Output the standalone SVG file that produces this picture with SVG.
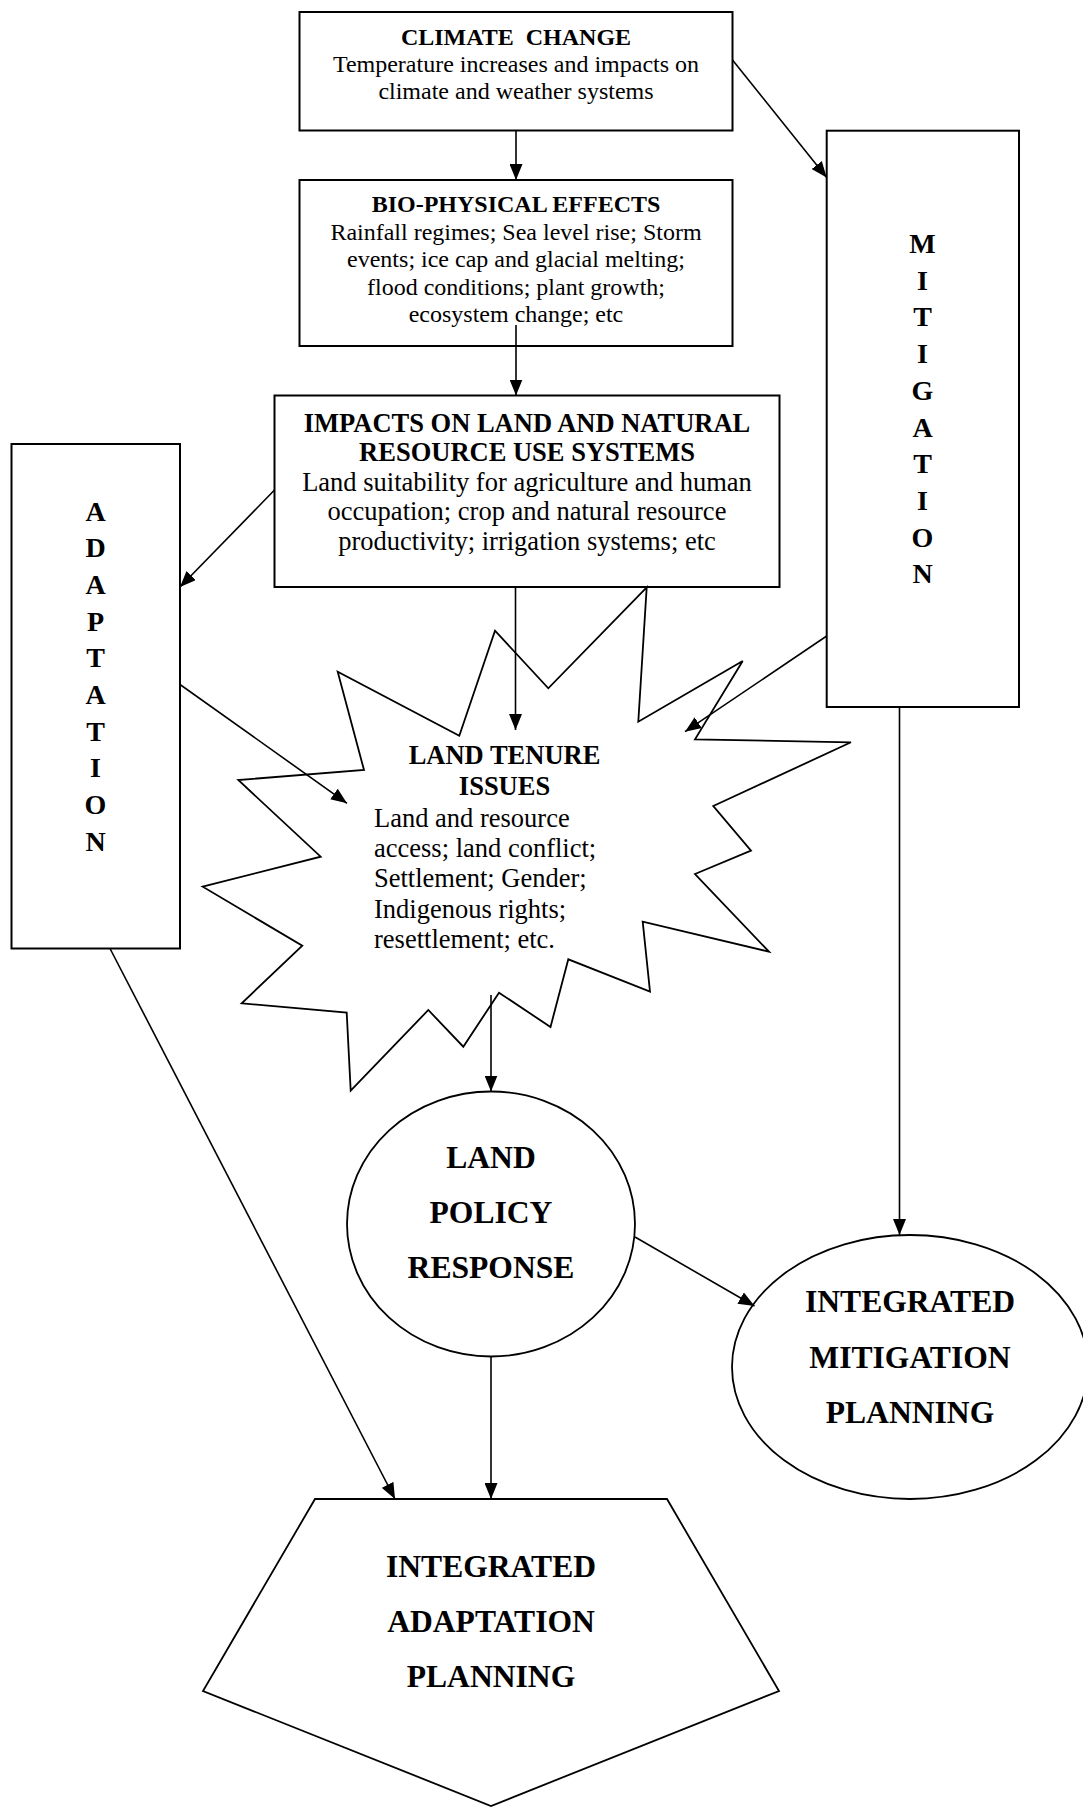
<svg xmlns="http://www.w3.org/2000/svg" width="1083" height="1807" viewBox="0 0 1083 1807">
<defs>
<marker id="ah" markerUnits="userSpaceOnUse" markerWidth="16" markerHeight="13" refX="16" refY="6.5" orient="auto">
<path d="M0,0 L16,6.5 L0,13 z" fill="#000"/>
</marker>
<style>
.box{fill:#fff;stroke:#000;stroke-width:2}
.shape{fill:#fff;stroke:#000;stroke-width:1.8}
.conn{fill:none;stroke:#000;stroke-width:1.6;marker-end:url(#ah)}
.t{font-family:"Liberation Serif","Times New Roman",serif;fill:#000}
.h24{font-size:24px;font-weight:bold;text-anchor:middle}
.b24{font-size:24px;text-anchor:middle}
.h26{font-size:26.5px;font-weight:bold;text-anchor:middle}
.b26{font-size:26.5px;text-anchor:middle}
.l26{font-size:26.5px}
.v{font-size:28px;font-weight:bold;text-anchor:middle}
.big{font-size:31.6px;font-weight:bold;text-anchor:middle}
</style>
</defs>
<rect width="1083" height="1807" fill="#fff"/>

<g id="climate-change">
<rect class="box" x="299.5" y="12" width="433" height="118.5"/>
<text class="t h24" x="516" y="45" xml:space="preserve">CLIMATE  CHANGE</text>
<text class="t b24" x="516" y="72.3">Temperature increases and impacts on</text>
<text class="t b24" x="516" y="99.3">climate and weather systems</text>
</g>

<g id="bio-physical-effects">
<rect class="box" x="299.5" y="180" width="433" height="166"/>
<text class="t h24" x="516" y="212.3">BIO-PHYSICAL EFFECTS</text>
<text class="t b24" x="516" y="239.5">Rainfall regimes; Sea level rise; Storm</text>
<text class="t b24" x="516" y="267">events; ice cap and glacial melting;</text>
<text class="t b24" x="516" y="294.5">flood conditions; plant growth;</text>
<text class="t b24" x="516" y="322">ecosystem change; etc</text>
</g>

<g id="impacts">
<rect class="box" x="274.5" y="395.5" width="505" height="191.5"/>
<text class="t h26" x="527" y="431.5">IMPACTS ON LAND AND NATURAL</text>
<text class="t h26" x="527" y="461">RESOURCE USE SYSTEMS</text>
<text class="t b26" x="527" y="490.7">Land suitability for agriculture and human</text>
<text class="t b26" x="527" y="520.3">occupation; crop and natural resource</text>
<text class="t b26" x="527" y="550">productivity; irrigation systems; etc</text>
</g>

<g id="adaptation">
<rect class="box" x="11.5" y="444" width="168.5" height="504.5"/>
<text class="t v" x="95.5" y="520.5">A</text>
<text class="t v" x="95.5" y="557.2">D</text>
<text class="t v" x="95.5" y="593.9">A</text>
<text class="t v" x="95.5" y="630.6">P</text>
<text class="t v" x="95.5" y="667.3">T</text>
<text class="t v" x="95.5" y="704">A</text>
<text class="t v" x="95.5" y="740.7">T</text>
<text class="t v" x="95.5" y="777.4">I</text>
<text class="t v" x="95.5" y="814.1">O</text>
<text class="t v" x="95.5" y="850.8">N</text>
</g>

<g id="mitigation">
<rect class="box" x="826.7" y="130.7" width="192.3" height="576.3"/>
<text class="t v" x="922.5" y="253">M</text>
<text class="t v" x="922.5" y="289.7">I</text>
<text class="t v" x="922.5" y="326.4">T</text>
<text class="t v" x="922.5" y="363.1">I</text>
<text class="t v" x="922.5" y="399.8">G</text>
<text class="t v" x="922.5" y="436.5">A</text>
<text class="t v" x="922.5" y="473.2">T</text>
<text class="t v" x="922.5" y="509.9">I</text>
<text class="t v" x="922.5" y="546.6">O</text>
<text class="t v" x="922.5" y="583.3">N</text>
</g>

<g id="land-tenure-issues">
<polygon class="shape" points="646.7,587.3 548.3,688.3 495,630.7 459.3,735.7 337.7,671.7 364,770 238.3,780 320.7,856.7 202.7,886.7 302.3,945.7 241.7,1003.3 346.7,1012.7 350.7,1090.7 428.3,1010 463.3,1046.7 499,992.7 550.5,1027 568.3,959.3 650,991.7 642.7,921.7 769,951.7 695,874 751,850.7 713.3,806 851,742.3 695,739.3 742.7,661 638.3,721.7"/>
<text class="t h26" x="504.5" y="764.3">LAND TENURE</text>
<text class="t h26" x="504.5" y="795">ISSUES</text>
<text class="t l26" x="374" y="826.7">Land and resource</text>
<text class="t l26" x="374" y="856.7">access; land conflict;</text>
<text class="t l26" x="374" y="887.3">Settlement; Gender;</text>
<text class="t l26" x="374" y="917.7">Indigenous rights;</text>
<text class="t l26" x="374" y="947.7">resettlement; etc.</text>
</g>

<g id="land-policy-response">
<ellipse class="shape" cx="491" cy="1224" rx="144" ry="132.5"/>
<text class="t big" x="491" y="1167.7">LAND</text>
<text class="t big" x="491" y="1222.7">POLICY</text>
<text class="t big" x="491" y="1277.7">RESPONSE</text>
</g>

<g id="integrated-mitigation-planning">
<ellipse class="shape" cx="910" cy="1367" rx="178" ry="132"/>
<text class="t big" x="910" y="1311.7">INTEGRATED</text>
<text class="t big" x="910" y="1367.7">MITIGATION</text>
<text class="t big" x="910" y="1422.7">PLANNING</text>
</g>

<g id="integrated-adaptation-planning">
<polygon class="shape" points="315,1499 667,1499 779,1691 491,1806 203,1691"/>
<text class="t big" x="491" y="1576.7">INTEGRATED</text>
<text class="t big" x="491" y="1631.7">ADAPTATION</text>
<text class="t big" x="491" y="1687.3">PLANNING</text>
</g>

<g id="connectors">
<path class="conn" d="M516,130.5 L516,180"/>
<path class="conn" d="M516,325 L516,395.5"/>
<path class="conn" d="M732.5,60 L826.7,177.5"/>
<path class="conn" d="M274.5,490 L180,587"/>
<path class="conn" d="M515.5,587 L515.5,730"/>
<path class="conn" d="M180,684.5 L347,803.3"/>
<path class="conn" d="M826.7,636 L685,731.7"/>
<path class="conn" d="M899.5,707 L899.5,1235"/>
<path class="conn" d="M491,995 L491,1091.5"/>
<path class="conn" d="M635,1237 L754.5,1306"/>
<path class="conn" d="M491,1356.5 L491,1499"/>
<path class="conn" d="M110,948.5 L395,1499"/>
</g>
</svg>
